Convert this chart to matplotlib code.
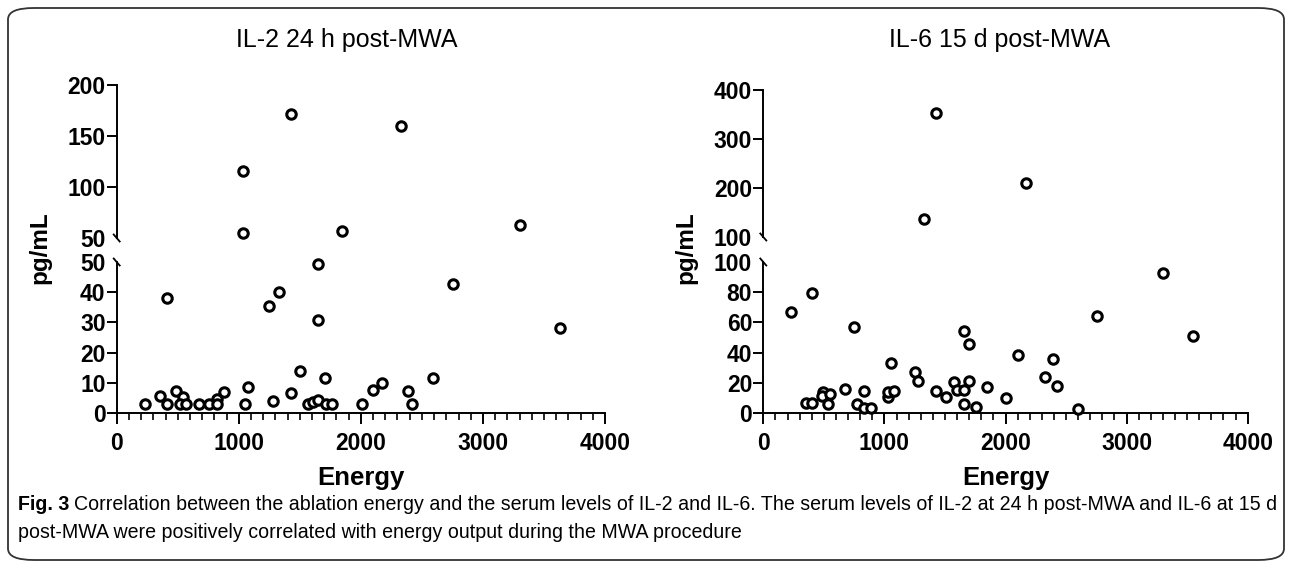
import matplotlib
matplotlib.use('Agg')
import matplotlib.pyplot as plt
from matplotlib.lines import Line2D
from matplotlib.patches import FancyBboxPatch
from matplotlib.ticker import MultipleLocator

W, H = 1292, 567

# IL-2 at 24 h post-MWA vs ablation energy
il2_energy = [232, 355, 410, 410, 486, 541, 519, 568, 675, 757, 825, 825, 880,
              1052, 1079, 1251, 1279, 1333, 1426, 1503, 1571, 1612, 1653, 1653,
              1653, 1707, 1713, 1762, 2008, 2103, 2172, 2390, 2423, 2595, 2754,
              3628, 1033, 2328, 1429, 1033, 1844, 3306]
il2_level = [3.0, 5.7, 38, 3, 7.2, 5.4, 3, 3, 3, 3, 4.5, 3, 6.8,
             3, 8.7, 35.5, 4.1, 40.2, 6.7, 13.8, 3, 3.5, 4.4, 49.2,
             30.7, 11.7, 3, 3, 3, 7.6, 10, 7.3, 3, 11.5, 42.7,
             28, 115.7, 160, 172, 54.6, 56.9, 62.7]

# IL-6 at 15 d post-MWA vs ablation energy
il6_energy = [226, 400, 353, 400, 496, 482, 551, 537, 675, 752, 771, 832, 832,
              887, 1032, 1032, 1079, 1052, 1253, 1275, 1426, 1506, 1577, 1602,
              1657, 1657, 1657, 1701, 1701, 1754, 1845, 2001, 2100, 2326, 2395,
              2428, 2596, 2753, 3298, 3551, 1426, 2169, 1327]
il6_level = [66.9, 79.6, 6.7, 6.9, 14, 11.1, 12.5, 6, 15.8, 57.1, 5.8, 14.7, 3.6,
             3.6, 10.7, 14, 14.7, 33.3, 27.1, 21.1, 14.5, 10.7, 20.5, 15.1,
             15.1, 54.5, 6.2, 45.6, 21.3, 4, 17.1, 10.2, 38.2, 24, 36,
             17.8, 2.7, 64.5, 92.5, 51.1, 352.6, 210, 136.7]

titles = ['IL-2 24 h post-MWA', 'IL-6 15 d post-MWA']
caption_bold = 'Fig. 3'
caption_1 = ('Correlation between the ablation energy and the serum levels of IL-2 and IL-6. '
             'The serum levels of IL-2 at 24 h post-MWA and IL-6 at 15 d')
caption_2 = 'post-MWA were positively correlated with energy output during the MWA procedure'

plt.rcParams['font.family'] = ['Liberation Sans', 'DejaVu Sans']
plt.rcParams['font.weight'] = 'bold'

fig = plt.figure(figsize=(W / 100, H / 100), dpi=100)


def fx(x):
    return x / W


def fy(y):
    return 1 - y / H


def seg_axes(x0, x1, ytop, ybot):
    return fig.add_axes([fx(x0), fy(ybot), fx(x1) - fx(x0), (ybot - ytop) / H])


def style(ax, bottom):
    for s in ['top', 'right']:
        ax.spines[s].set_visible(False)
    ax.spines['left'].set_linewidth(1.4)
    ax.spines['bottom'].set_linewidth(1.4)
    ax.tick_params(axis='y', direction='out', length=7, width=1.4, labelsize=16.5, pad=1)
    ax.set_xlim(0, 4000)
    if bottom:
        ax.xaxis.set_major_locator(MultipleLocator(1000))
        ax.xaxis.set_minor_locator(MultipleLocator(100))
        ax.tick_params(axis='x', which='major', direction='out', length=8, width=1.4,
                       labelsize=16.5, pad=6)
        ax.tick_params(axis='x', which='minor', direction='out', length=5, width=1.2)
    else:
        ax.spines['bottom'].set_visible(False)
        ax.set_xticks([])
    ax.patch.set_alpha(0)


def panel(x0, x1, ytops, lo_max, hi_min, hi_max, lo_step, hi_step, energy, level,
          title, title_x):
    y_zero, y_lo_top, y_hi_bot, y_hi_top = ytops
    lo = seg_axes(x0, x1, y_lo_top, y_zero)
    hi = seg_axes(x0, x1, y_hi_top, y_hi_bot)
    style(lo, True)
    style(hi, False)
    lo.set_ylim(0, lo_max)
    hi.set_ylim(hi_min, hi_max)
    lo.set_yticks(range(0, lo_max + 1, lo_step))
    hi.set_yticks(range(hi_min, hi_max + 1, hi_step))
    lo.yaxis.get_major_ticks()[-1].tick1line.set_visible(False)
    hi.yaxis.get_major_ticks()[0].tick1line.set_visible(False)
    lx = [e for e, v in zip(energy, level) if v <= lo_max]
    ly = [v for v in level if v <= lo_max]
    hx = [e for e, v in zip(energy, level) if v > lo_max]
    hy = [v for v in level if v > lo_max]
    for ax, xs, ys in [(lo, lx, ly), (hi, hx, hy)]:
        ax.plot(xs, ys, 'o', mfc='white', mec='black', ms=6.8, mew=2.2,
                ls='none', clip_on=False, zorder=5)
    # axis break marks
    for yb in [y_hi_bot, y_lo_top]:
        fig.add_artist(Line2D([fx(x0 - 3), fx(x0 + 3)], [fy(yb - 3.5), fy(yb + 3.5)],
                              color='black', lw=1.3))
    xc = (x0 + x1) / 2
    fig.text(fx(title_x), fy(40), title, ha='center', va='center', fontsize=18,
             fontweight='normal')
    fig.text(fx(xc), fy(478), 'Energy', ha='center', va='center', fontsize=18.5)
    fig.text(fx(x0 - 77), fy(248), 'pg/mL', ha='center', va='center', fontsize=17.5,
             rotation=90)


panel(116.7, 605, (413, 262, 238, 85.5), 50, 50, 200, 10, 50,
      il2_energy, il2_level, titles[0], 347)
panel(763.3, 1247.7, (413, 262, 237, 90), 100, 100, 400, 20, 100,
      il6_energy, il6_level, titles[1], 1000)

# frame around figure
fig.add_artist(FancyBboxPatch((fx(8), fy(560)), fx(1284) - fx(8), fy(8) - fy(560),
                              boxstyle='round,pad=0,rounding_size=0.02',
                              transform=fig.transFigure, fill=False,
                              ec='#333333', lw=1.3))

cap_size = 14.1
t = fig.text(fx(18), fy(505), caption_bold, ha='left', va='center', fontsize=cap_size,
             fontweight='bold')
fig.canvas.draw()
bw = t.get_window_extent(fig.canvas.get_renderer()).width
fig.text(fx(18 + bw + 5), fy(505), caption_1, ha='left', va='center', fontsize=cap_size,
         fontweight='normal')
fig.text(fx(18), fy(532), caption_2, ha='left', va='center', fontsize=cap_size,
         fontweight='normal')

fig.savefig('out.png', dpi=100)
